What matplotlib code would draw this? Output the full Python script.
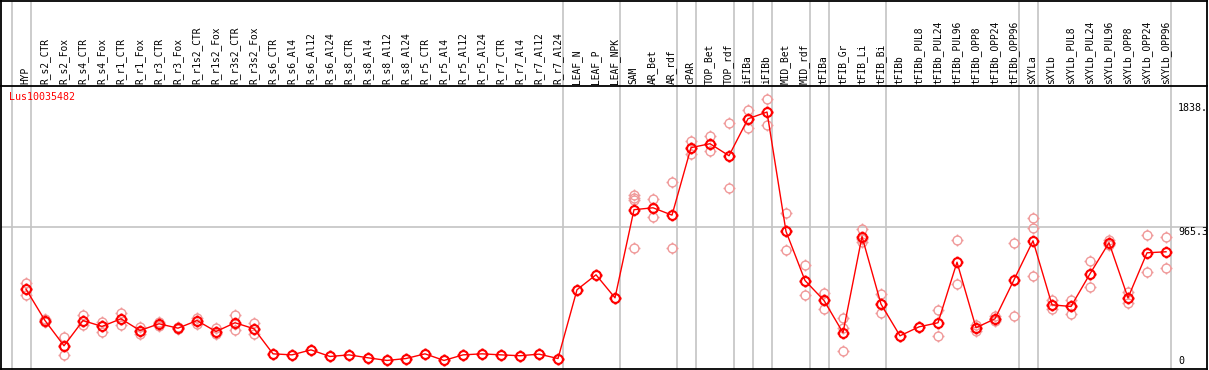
import matplotlib
matplotlib.use("Agg")
import matplotlib.pyplot as plt
from matplotlib.path import Path
from matplotlib.lines import Line2D
import numpy as np

samples = ['HYP', 'R_s2_CTR', 'R_s2_Fox', 'R_s4_CTR', 'R_s4_Fox', 'R_r1_CTR', 'R_r1_Fox',
           'R_r3_CTR', 'R_r3_Fox', 'R_r1s2_CTR', 'R_r1s2_Fox', 'R_r3s2_CTR', 'R_r3s2_Fox',
           'R_s6_CTR', 'R_s6_Al4', 'R_s6_Al12', 'R_s6_Al24', 'R_s8_CTR', 'R_s8_Al4', 'R_s8_Al12',
           'R_s8_Al24', 'R_r5_CTR', 'R_r5_Al4', 'R_r5_Al12', 'R_r5_Al24', 'R_r7_CTR', 'R_r7_Al4',
           'R_r7_Al12', 'R_r7_Al24', 'LEAF_N', 'LEAF_P', 'LEAF_NPK', 'SAM', 'AR_Bet', 'AR_rdf',
           'cPAR', 'TOP_Bet', 'TOP_rdf', 'iFIBa', 'iFIBb', 'MID_Bet', 'MID_rdf', 'tFIBa',
           'tFIB_Gr', 'tFIB_Li', 'tFIB_Bi', 'tFIBb', 'tFIBb_PUL8', 'tFIBb_PUL24', 'tFIBb_PUL96',
           'tFIBb_OPP8', 'tFIBb_OPP24', 'tFIBb_OPP96', 'sXYLa', 'sXYLb', 'sXYLb_PUL8',
           'sXYLb_PUL24', 'sXYLb_PUL96', 'sXYLb_OPP8', 'sXYLb_OPP24', 'sXYLb_OPP96']

means = [541, 327, 155, 327, 287, 339, 259, 305, 275, 327, 252, 312, 271,
         100, 93, 127, 82, 93, 73, 55, 68, 100, 55, 93, 100, 93, 87, 98, 68,
         537, 639, 482, 1083, 1096, 1046, 1506, 1533, 1451, 1703, 1749, 935, 600,
         464, 244, 900, 439, 223, 284, 312, 725, 278, 339, 605, 871,
         434, 423, 646, 858, 482, 789, 796]

replicates = [[582, 541, 503], [336, 327, 314], [218, 155, 91], [362, 327, 298],
              [316, 287, 248], [377, 339, 300], [282, 259, 237], [314, 305, 287],
              [280, 275, 270], [346, 327, 305], [277, 252, 237], [368, 305, 264],
              [309, 271, 232],
              [100], [93], [127], [82], [93], [73], [55], [68], [100], [55], [93], [100],
              [93], [87], [98], [68], [537], [639], [482],
              [1180, 1165, 1151, 823], [1158, 1096, 1035], [1274, 823],
              [1549, 1506, 1460], [1583, 1533, 1482], [1676, 1451, 1233],
              [1765, 1703, 1642], [1838, 1749, 1662], [1062, 935, 810], [709, 600, 498],
              [518, 464, 405], [346, 278, 116], [953, 885, 862], [510, 439, 380],
              [223], [284], [400, 223], [878, 578], [300, 278, 259], [355, 339, 323],
              [858, 360], [1028, 960, 632], [464, 434, 405], [469, 423, 373],
              [735, 646, 557], [873, 858, 839], [523, 482, 445], [912, 660], [898, 687]]

# index of first sample in each group
group_starts = [0, 1, 29, 32, 35, 36, 38, 39, 40, 42, 43, 46, 53, 54, 61]

gene = 'Lus10035482'
ymax_val = 1838
ytick_vals = [1838, 965.3, 0]
ytick_text = ['1838.', '965.3', '0']

W, H = 1209, 370
fig = plt.figure(figsize=(W / 100, H / 100), dpi=100)
ax = fig.add_axes([1 / W, 1.5 / H, 1206 / W, 283 / H])
ax.set_xlim((1 - 26) / 19, (1207 - 26) / 19)
ax.set_ylim(0, ymax_val * 1.05)
ax.set_xticks([])
ax.set_yticks([])
for s in ax.spines.values():
    s.set_color('black')
    s.set_linewidth(1.3)

mono = 'DejaVu Sans Mono'
gray = '#c4c4c4'

# group separators, running up through the header
top_ext = 1 + 84 / 283
for g in group_starts:
    ax.axvline(g - 0.75, ymin=0, ymax=top_ext, color=gray, lw=1.2, clip_on=False, zorder=1)
ax.axhline(ymax_val * 1.05 / 2, color=gray, lw=1.2, zorder=1)

# marker: circle with four little ticks
circ = Path.unit_circle()
ticks = []
for dx, dy in [(1, 0), (-1, 0), (0, 1), (0, -1)]:
    ticks.append(Path([(dx, dy), (dx * 1.35, dy * 1.35)], [Path.MOVETO, Path.LINETO]))
mk = Path.make_compound_path(circ, *ticks)

x = np.arange(len(samples))
for i, reps in enumerate(replicates):
    ax.plot([i] * len(reps), reps, ls='none', marker=mk, ms=8.6, mfc='none',
            mec='#f09a9a', mew=1.0, zorder=2)
ax.plot(x, means, color='#ff0000', lw=1.0, marker=mk, ms=8.6, mfc='none',
        mec='#ff0000', mew=1.5, zorder=3)

# header labels
for i, name in enumerate(samples):
    ax.annotate(name, xy=(i, 1), xycoords=ax.get_xaxis_transform(), xytext=(-0.5, 2),
                textcoords='offset pixels', rotation=90, ha='center', va='bottom',
                fontsize=6.9, family=mono, color='black', annotation_clip=False)

ax.text(9 / W, 1 - 97 / H, gene, transform=fig.transFigure, ha='left', va='center',
        fontsize=7.2, family=mono, color='#ff0000')

# value labels on the right
xr = (1178 - 26) / 19
ax.annotate(ytick_text[0], xy=(xr, ytick_vals[0]), xytext=(0, -4), textcoords='offset pixels',
            ha='left', va='top', fontsize=7.2, family=mono, annotation_clip=False)
ax.annotate(ytick_text[1], xy=(xr, ytick_vals[1]), xytext=(0, -5), textcoords='offset pixels',
            ha='left', va='center', fontsize=7.2, family=mono, clip_on=True)
ax.annotate(ytick_text[2], xy=(xr, ytick_vals[2]), xytext=(0, 2), textcoords='offset pixels',
            ha='left', va='bottom', fontsize=7.2, family=mono)

# outer frame of the header
fx0, fx1 = 1 / W, 1207 / W
fig.add_artist(Line2D([fx0, fx1], [1 - 0.5 / H, 1 - 0.5 / H], color='black', lw=1.3,
                      transform=fig.transFigure))
fig.add_artist(Line2D([fx0, fx0], [1, 1 - 85 / H], color='black', lw=1.3,
                      transform=fig.transFigure))
fig.add_artist(Line2D([fx1, fx1], [1, 1 - 85 / H], color='black', lw=1.3,
                      transform=fig.transFigure))

fig.savefig('out.png', dpi=100, facecolor='white')
